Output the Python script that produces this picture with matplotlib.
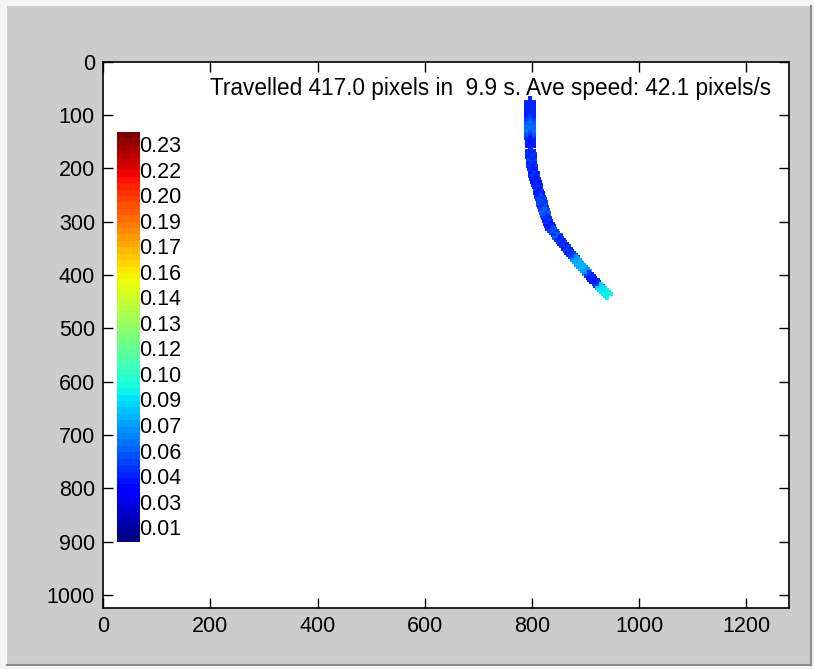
import numpy as np
import matplotlib
matplotlib.use("Agg")
import matplotlib.pyplot as plt
from matplotlib.patches import Rectangle

plt.rcParams["font.family"] = ["Liberation Sans", "DejaVu Sans"]

# tracked positions (pixels) and speed at each frame (pixels/ms)
track_x = [796, 796, 796, 796, 796, 796, 796, 796, 796, 796, 796,
           796, 796, 796, 796, 796, 796, 796, 797, 797, 797, 797,
           797, 798, 798, 799, 799, 800,
           801, 803, 804, 806, 807, 809,
           810, 812, 813, 815, 816, 818,
           819, 821, 822, 824, 825, 827,
           829, 831, 834, 836,
           839, 842, 846, 849, 852, 855,
           858, 861, 865, 868, 871, 874,
           878, 882, 885, 889, 893,
           897, 900, 904, 907, 911,
           915, 918, 922, 925, 929,
           933, 936, 940]
track_y = [75, 79, 83, 87, 91, 95, 99, 103, 107, 111, 115,
           119, 123, 127, 131, 135, 139, 143, 147, 151, 155, 159,
           167, 173, 179, 185, 190, 196,
           202, 208, 214, 220, 226, 231,
           236, 242, 247, 253, 258, 263,
           268, 273, 279, 284, 289, 294,
           299, 304, 309, 313,
           317, 321, 326, 330, 334, 338,
           342, 346, 351, 355, 359, 363,
           367, 372, 376, 381, 385,
           389, 393, 398, 402, 406,
           410, 414, 417, 421, 425,
           429, 432, 436]
speed = [0.045, 0.045, 0.045, 0.045, 0.045, 0.045, 0.045, 0.045, 0.048, 0.052, 0.056,
         0.06, 0.063, 0.06, 0.063, 0.06, 0.056, 0.052, 0.045, 0.042, 0.045, 0.042,
         0.045, 0.048, 0.045, 0.052, 0.045, 0.048,
         0.045, 0.042, 0.048, 0.045, 0.042, 0.045,
         0.045, 0.048, 0.042, 0.045, 0.052, 0.048,
         0.056, 0.048, 0.052, 0.06, 0.056, 0.048,
         0.045, 0.048, 0.042, 0.045,
         0.052, 0.056, 0.048, 0.06, 0.045, 0.048,
         0.045, 0.048, 0.042, 0.052, 0.045, 0.048,
         0.052, 0.07, 0.073, 0.076, 0.073,
         0.076, 0.073, 0.07, 0.048, 0.045,
         0.045, 0.042, 0.045, 0.048, 0.083,
         0.086, 0.088, 0.09]

speed_min, speed_max = 0.01, 0.23
scale_labels = ["0.23", "0.22", "0.20", "0.19", "0.17", "0.16", "0.14", "0.13",
                "0.12", "0.10", "0.09", "0.07", "0.06", "0.04", "0.03", "0.01"]

title_text = "Travelled 417.0 pixels in  9.9 s. Ave speed: 42.1 pixels/s"

cmap = plt.get_cmap("jet", 64)

fig = plt.figure(figsize=(8.14, 6.69), dpi=100, facecolor="#f4f4f4")

# grey window panel behind the axes
fig.patches.append(Rectangle((7 / 814, 4 / 669), 804 / 814, 659 / 669,
                             transform=fig.transFigure, facecolor="#cccccc",
                             edgecolor="none", zorder=-5))
fig.add_artist(plt.Line2D([7 / 814, 811 / 814], [4 / 669, 4 / 669],
                          transform=fig.transFigure, color="#8a8a8a", lw=1.5,
                          zorder=-4))
fig.add_artist(plt.Line2D([811 / 814, 811 / 814], [4 / 669, 663 / 669],
                          transform=fig.transFigure, color="#8a8a8a", lw=1.5,
                          zorder=-4))

ax = fig.add_axes([103.3 / 814, 61 / 669, 686 / 814, 546.5 / 669])
ax.set_zorder(2)
ax.set_facecolor("white")

# speed scale drawn inside the arena
levels = np.linspace(speed_max, speed_min, 64)[:, None]
ax.imshow(levels, cmap=cmap, vmin=speed_min, vmax=speed_max, aspect="auto",
          extent=[25, 67, 900, 133], interpolation="nearest", zorder=2)
label_pos = np.linspace(160, 877, len(scale_labels))
for ypos, lab in zip(label_pos, scale_labels):
    ax.text(67, ypos, lab, ha="left", va="center", fontsize=15.5, color="black")

ax.scatter(track_x, track_y, c=speed, cmap=cmap, vmin=speed_min, vmax=speed_max,
           marker="+", s=72, linewidths=2.8, zorder=3)

ax.text(199, 51, title_text, ha="left", va="center", fontsize=16.3, color="black")

ax.set_xlim(0, 1280)
ax.set_ylim(1024, 0)
ax.set_xticks(range(0, 1201, 200))
ax.set_yticks(range(0, 1001, 100))
ax.tick_params(direction="in", length=7, width=1, top=True, right=True,
               labelsize=15.5, pad=6)
for sp in ax.spines.values():
    sp.set_linewidth(1.2)

fig.savefig("out.png", dpi=100, facecolor=fig.get_facecolor())
